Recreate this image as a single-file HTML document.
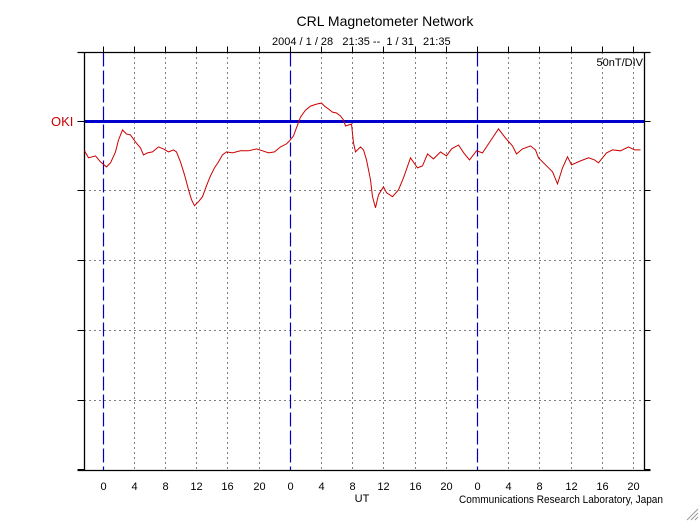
<!DOCTYPE html>
<html><head><meta charset="utf-8"><style>
html,body{margin:0;padding:0;background:#fff;}
svg{display:block;font-family:"Liberation Sans",sans-serif;}
</style></head><body>
<svg id="chart" width="700" height="522" viewBox="0 0 700 522" xmlns="http://www.w3.org/2000/svg">
<text x="385" y="26" font-size="14" text-anchor="middle" fill="#000">CRL Magnetometer Network</text>
<text x="272" y="45" font-size="11" fill="#000" xml:space="preserve">2004 / 1 / 28   21:35 --  1 / 31   21:35</text>
<text x="643" y="66" font-size="11" text-anchor="end" fill="#000">50nT/DIV</text>
<text x="51" y="126" font-size="13" fill="#cc0000">OKI</text>
<g id="grid"></g>
<g id="frame"></g>
<g id="xlabels"></g>
<path id="series" fill="none" stroke="#cc0000" stroke-width="1"/>
<text x="362" y="502" font-size="11" text-anchor="middle" fill="#000">UT</text>
<text x="459" y="503" font-size="11" textLength="204" lengthAdjust="spacingAndGlyphs" fill="#000">Communications Research Laboratory, Japan</text>
<g stroke="#999" stroke-width="1"><line x1="687" y1="520" x2="698" y2="509"/><line x1="691" y1="520" x2="698" y2="513"/><line x1="695" y1="520" x2="698" y2="517"/></g>
</svg>
<script>
const hours=[-2.31,-1.79,-0.90,-0.26,0.51,1.03,1.67,2.05,2.56,3.08,3.59,4.23,4.87,5.26,5.77,6.41,7.18,7.82,8.46,9.10,9.49,10.0,10.51,11.03,11.41,11.79,12.31,12.82,13.33,13.85,14.36,14.87,15.38,15.90,16.67,17.69,18.72,19.74,20.51,21.28,22.05,22.82,23.59,23.97,24.49,25.0,25.38,26.03,26.67,27.44,28.08,28.46,28.97,29.49,30.0,30.51,30.90,31.15,31.54,31.92,32.18,32.44,33.08,33.46,33.85,34.36,34.62,35.0,35.38,36.03,36.41,37.18,37.95,38.59,39.49,40.38,41.03,41.67,42.44,43.33,44.10,44.74,45.64,46.41,47.05,47.95,48.72,49.74,50.77,51.67,52.56,53.08,53.85,54.87,55.51,55.90,56.79,57.69,58.33,58.97,59.62,60.13,61.28,62.31,63.08,63.59,64.62,65.38,66.41,67.44,68.21,68.97];
const values=[-21.6,-26.6,-25.2,-29.5,-33.1,-30.2,-22.4,-13.8,-6.6,-9.5,-10.2,-15.2,-19.5,-24.5,-23.1,-22.4,-18.8,-20.2,-22.4,-20.9,-22.4,-29.5,-38.8,-49.5,-56.6,-60.9,-58.1,-54.5,-46.6,-39.5,-33.8,-29.5,-24.5,-22.4,-23.1,-21.6,-21.6,-20.2,-21.6,-23.1,-22.4,-18.8,-16.6,-14.5,-10.9,-3.1,2.6,7.6,10.5,11.9,12.6,10.5,8.4,6.2,5.5,3.4,0.5,-3.8,-3.1,-2.4,-15.9,-22.4,-18.8,-20.9,-28.1,-42.4,-54.5,-62.4,-53.1,-47.4,-51.6,-54.5,-49.5,-40.9,-26.6,-33.8,-32.4,-23.8,-27.4,-22.4,-25.2,-20.2,-17.4,-23.8,-28.1,-21.6,-23.1,-14.5,-5.9,-12.4,-18.1,-23.8,-20.2,-18.1,-20.9,-26.6,-31.6,-36.6,-45.2,-33.8,-25.9,-31.6,-28.8,-26.6,-28.1,-30.2,-23.1,-20.9,-21.6,-18.8,-20.9,-20.9];
const tickHours=[0,4,8,12,16,20,24,28,32,36,40,44,48,52,56,60,64,68];
const tickLabels=["0","4","8","12","16","20","0","4","8","12","16","20","0","4","8","12","16","20"];
const dayHours=[0,24,48];
const levelValues=[0,-50,-100,-150,-200,-250];

const NS="http://www.w3.org/2000/svg";
const L=84.5,R=644.5,T=52.5,B=470.5;
const xs=h=>102.5+h*7.8;
const ys=v=>120.7-v*1.395;
function mk(tag,attrs,parent){const e=document.createElementNS(NS,tag);for(const k in attrs)e.setAttribute(k,attrs[k]);parent.appendChild(e);return e;}
const grid=document.getElementById('grid'),frame=document.getElementById('frame'),xl=document.getElementById('xlabels');
tickHours.forEach((h,i)=>{
  const x=Math.round(xs(h))+0.5;
  const isDay=dayHours.indexOf(h)>=0;
  const g=mk('line',{x1:x,y1:T,x2:x,y2:B,stroke:isDay?'#0000bb':'#000','stroke-width':isDay?1.2:1,'stroke-dasharray':isDay?'14,4':'1,4'},grid);
  
  
  const t1=mk('line',{x1:x,y1:T-6,x2:x,y2:T,stroke:'#000'},frame);
  
  
  const lab=mk('text',{x:x,y:490,'font-size':11,'text-anchor':'middle',fill:'#000'},xl);
  lab.textContent=tickLabels[i];
  
  
});
levelValues.forEach((v,i)=>{
  const y=Math.round(ys(v))+0.5;
  if(i===0){
    const b=mk('line',{x1:L,y1:y,x2:R,y2:y,stroke:'#0000cc','stroke-width':3},grid);
    
    
  } else if(i<levelValues.length-1){
    const g=mk('line',{x1:L,y1:y,x2:R,y2:y,stroke:'#000','stroke-dasharray':'1,4'},grid);
    
    
  }
  const tl=mk('line',{x1:L-7,y1:y,x2:L,y2:y,stroke:'#000'},frame);
  
  
  const tr=mk('line',{x1:R,y1:y,x2:R+6,y2:y,stroke:'#000'},frame);
  
  
});
[[L,T,L,B],[R,T,R,B],[L-7,T,R+6,T],[L-7,B,R+6,B]].forEach(c=>{
  const e=mk('line',{x1:c[0],y1:c[1],x2:c[2],y2:c[3],stroke:'#000','stroke-width':1.3},frame);
  
  
});
let d='';
hours.forEach((h,i)=>{d+=(i?'L':'M')+xs(h).toFixed(1)+','+ys(values[i]).toFixed(1);});
document.getElementById('series').setAttribute('d',d);
</script>
</body></html>
